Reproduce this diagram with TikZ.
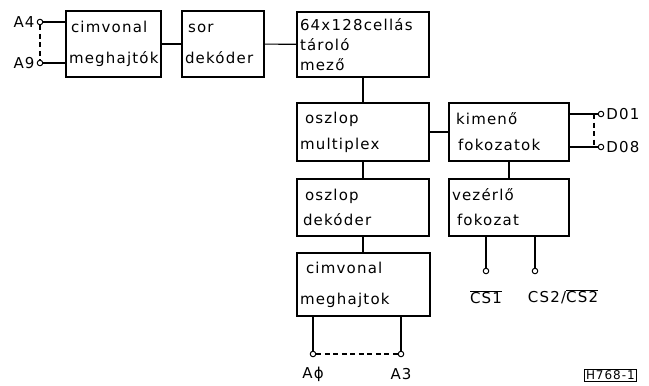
\documentclass[tikz,border=0pt]{standalone}
\usepackage{fontspec}
\setmainfont{DejaVu Sans}[LetterSpace=8]
\usetikzlibrary{positioning}

\begin{document}
\begin{tikzpicture}[x=1pt,y=-1pt,
  blokk/.style={draw,line width=2pt,anchor=north west,align=left,inner xsep=3pt,font=\fontsize{15}{18}\selectfont},
  lab/.style={font=\fontsize{15}{16}\selectfont,inner sep=1pt},
  pin/.style={circle,draw,fill=white,line width=1pt,inner sep=0pt,minimum size=5.5pt},
  vonal/.style={line width=1.1pt},
  szagg/.style={vonal,dash pattern=on 5pt off 3.5pt}]
\useasboundingbox (0,0) rectangle (649,386);
% blocks
\node[blokk,text width=89,minimum height=66] (cim1) at (65,10) {\hspace{2pt}cimvonal\\[13pt]meghajtók};
\node[blokk,text width=76,minimum height=66] (sor) at (181,10) {\hspace{3pt}sor\\[13pt]dekóder};
\node[blokk,text width=126,minimum height=65,font=\fontsize{15}{20}\selectfont] (taro) at (296,11) {64x128cellás\\tároló\\mező};
\node[blokk,text width=126,minimum height=58] (multi) at (296,102) {\hspace{5pt}oszlop\\[8pt]multiplex};
\node[blokk,text width=114,minimum height=58] (kimeno) at (448,102) {\hspace{4pt}kimenő\\[8pt]\hspace{6pt}fokozatok};
\node[blokk,text width=126,minimum height=57] (oszdek) at (296,178) {\hspace{5pt}oszlop\\[7pt]\hspace{3pt}dekóder};
\node[blokk,text width=114,minimum height=57] (vezer) at (448,178) {vezérlő\\[7pt]\hspace{5pt}fokozat};
\node[blokk,text width=127,minimum height=63] (cim2) at (296,252) {\hspace{6pt}cimvonal\\[13pt]meghajtok};
\draw[vonal] (cim1) -- (sor);
\draw[vonal] (sor) -- (taro);
\draw[vonal] (taro) -- (multi);
\draw[vonal] (multi) -- (oszdek);
\draw[vonal] (oszdek.south) -- (oszdek.south |- cim2.north);
\draw[vonal] (multi) -- (kimeno);
\draw[vonal] (kimeno) -- (vezer);
% address inputs A4..A9
\node[pin] (a4) at (40,22) {};
\node[pin] (a9) at (40,63) {};
\node[lab,left=1pt of a4] (a4l) {A4};
\node[lab,left=1pt of a9] (a9l) {A9};
\draw[vonal] (a4) -- (a4 -| cim1.west);
\draw[vonal] (a9) -- (a9 -| cim1.west);
\draw[szagg] (a4) -- (a9);
% data outputs
\node[pin] (d1) at (601,114) {};
\node[pin] (d8) at (601,147) {};
\node[lab,right=1pt of d1] (d1l) {D01};
\node[lab,right=1pt of d8] (d8l) {D08};
\draw[vonal] (d1 -| kimeno.east) -- (d1);
\draw[vonal] (d8 -| kimeno.east) -- (d8);
\coordinate (s1) at (594,114);
\coordinate (s8) at (594,147);
\draw[szagg] (s1) -- (s8);
% chip select
\node[pin] (cs1) at (486,271) {};
\node[pin] (cs2) at (535,271) {};
\draw[vonal] (cs1 |- vezer.south) -- (cs1);
\draw[vonal] (cs2 |- vezer.south) -- (cs2);
\node[lab] (cs1l) at (486,297) {$\overline{\mbox{CS1}}$};
\node[lab] (cs2l) at (563,297) {CS2/$\overline{\mbox{CS2}}$};
% address inputs A0..A3
\node[pin] (a0) at (313,354) {};
\node[pin] (a3) at (401,354) {};
\draw[vonal] (a0 |- cim2.south) -- (a0);
\draw[vonal] (a3 |- cim2.south) -- (a3);
\draw[szagg] (a0) -- (a3);
\node[lab] (a0l) at (313,374) {Aϕ};
\node[lab] (a3l) at (401,374) {A3};
\node[draw,line width=1pt,anchor=north west,font=\fontsize{12}{12}\selectfont,inner sep=1.5pt] (jel) at (584,369) {H768-1};
\end{tikzpicture}
\end{document}
